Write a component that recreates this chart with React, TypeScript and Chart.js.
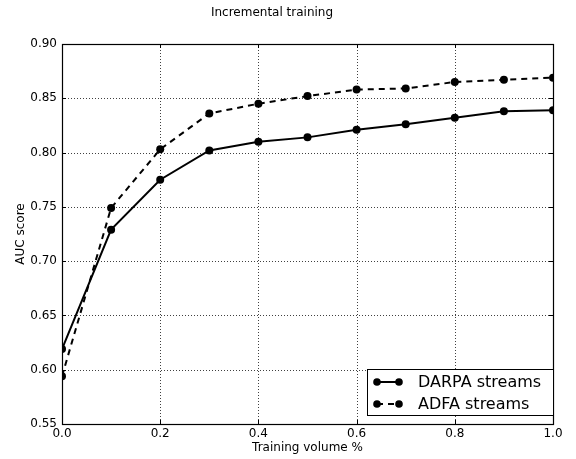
import React, { useEffect, useRef } from "react";
import { Chart, registerables } from "chart.js";

Chart.register(...registerables);

const xValues = [0.0, 0.1, 0.2, 0.3, 0.4, 0.5, 0.6, 0.7, 0.8, 0.9, 1.0];
const darpaValues = [0.619, 0.729, 0.775, 0.802, 0.81, 0.814, 0.821, 0.826, 0.832, 0.838, 0.839];
const adfaValues = [0.594, 0.749, 0.803, 0.836, 0.845, 0.852, 0.858, 0.859, 0.865, 0.867, 0.869];
const seriesNames = ["DARPA streams", "ADFA streams"];
const titleText = "Incremental training";
const xTitle = "Training volume %";
const yTitle = "AUC score";

const FONT = "'DejaVu Sans', sans-serif";

const customPlugin = {
  id: "mplStyle",
  beforeDatasetsDraw(chart: any) {
    const { ctx, chartArea } = chart;
    const xs = chart.scales.x;
    const ys = chart.scales.y;
    ctx.save();
    ctx.strokeStyle = "rgba(0,0,0,0.75)";
    ctx.lineWidth = 1;
    ctx.setLineDash([1, 2]);
    xs.ticks.forEach((t: any) => {
      const px = Math.round(xs.getPixelForValue(t.value)) + 0.5;
      if (px <= chartArea.left + 1 || px >= chartArea.right - 1) return;
      ctx.beginPath();
      ctx.moveTo(px, chartArea.top);
      ctx.lineTo(px, chartArea.bottom);
      ctx.stroke();
    });
    ys.ticks.forEach((t: any) => {
      const py = Math.round(ys.getPixelForValue(t.value)) + 0.5;
      if (py <= chartArea.top + 1 || py >= chartArea.bottom - 1) return;
      ctx.beginPath();
      ctx.moveTo(chartArea.left, py);
      ctx.lineTo(chartArea.right, py);
      ctx.stroke();
    });
    ctx.restore();
  },
  afterDraw(chart: any) {
    const { ctx, chartArea } = chart;
    const xs = chart.scales.x;
    const ys = chart.scales.y;
    const { left, right, top, bottom } = chartArea;
    ctx.save();
    // ticks inward
    ctx.strokeStyle = "#000";
    ctx.lineWidth = 1;
    ctx.setLineDash([]);
    const tl = 4;
    xs.ticks.forEach((t: any) => {
      const px = Math.round(xs.getPixelForValue(t.value)) + 0.5;
      ctx.beginPath();
      ctx.moveTo(px, bottom);
      ctx.lineTo(px, bottom - tl);
      ctx.moveTo(px, top);
      ctx.lineTo(px, top + tl);
      ctx.stroke();
    });
    ys.ticks.forEach((t: any) => {
      const py = Math.round(ys.getPixelForValue(t.value)) + 0.5;
      ctx.beginPath();
      ctx.moveTo(left, py);
      ctx.lineTo(left + tl, py);
      ctx.moveTo(right, py);
      ctx.lineTo(right - tl, py);
      ctx.stroke();
    });
    // border
    ctx.strokeStyle = "#000";
    ctx.lineWidth = 1.2;
    ctx.strokeRect(Math.round(left) + 0.5, Math.round(top) + 0.5, Math.round(right - left), Math.round(bottom - top));

    // title
    ctx.fillStyle = "#000";
    ctx.font = `12px ${FONT}`;
    ctx.textAlign = "center";
    ctx.textBaseline = "middle";
    ctx.fillText(titleText, 272, 13);

    // x title
    ctx.fillText(xTitle, (left + right) / 2, 448);

    // y title
    ctx.save();
    ctx.translate(21, (top + bottom) / 2);
    ctx.rotate(-Math.PI / 2);
    ctx.fillText(yTitle, 0, 0);
    ctx.restore();

    // legend
    const bx0 = 367, by0 = 369, bx1 = Math.round(right), by1 = 415;
    ctx.fillStyle = "#fff";
    ctx.fillRect(bx0, by0, bx1 - bx0, by1 - by0);
    ctx.strokeStyle = "#000";
    ctx.lineWidth = 1;
    ctx.strokeRect(bx0 + 0.5, by0 + 0.5, bx1 - bx0, by1 - by0);
    const rows = [382, 404];
    const dashes = [[], [6, 5]];
    rows.forEach((ry, i) => {
      ctx.strokeStyle = "#000";
      ctx.lineWidth = 2;
      ctx.setLineDash(dashes[i]);
      ctx.beginPath();
      ctx.moveTo(377, ry);
      ctx.lineTo(399, ry);
      ctx.stroke();
      ctx.setLineDash([]);
      ctx.fillStyle = "#000";
      [377, 399].forEach((cx) => {
        ctx.beginPath();
        ctx.arc(cx, ry, 3.8, 0, Math.PI * 2);
        ctx.fill();
      });
      ctx.font = `16px ${FONT}`;
      ctx.textAlign = "left";
      ctx.textBaseline = "middle";
      ctx.fillText(seriesNames[i], 418, ry + 1);
    });
    ctx.restore();
  },
};

export default function App() {
  const canvasRef = useRef<HTMLCanvasElement | null>(null);

  useEffect(() => {
    document.body.style.margin = "0";
    const canvas = canvasRef.current;
    if (!canvas) return;
    const chart = new Chart(canvas, {
      type: "line",
      data: {
        datasets: [
          {
            label: seriesNames[0],
            data: xValues.map((x, i) => ({ x, y: darpaValues[i] })),
            borderColor: "#000",
            backgroundColor: "#000",
            borderWidth: 2,
            pointRadius: 4,
            pointBackgroundColor: "#000",
            pointBorderWidth: 0,
            tension: 0,
            fill: false,
            clip: 0,
          } as any,
          {
            label: seriesNames[1],
            data: xValues.map((x, i) => ({ x, y: adfaValues[i] })),
            borderColor: "#000",
            backgroundColor: "#000",
            borderWidth: 2,
            borderDash: [6, 5],
            pointRadius: 4,
            pointBackgroundColor: "#000",
            pointBorderWidth: 0,
            tension: 0,
            fill: false,
            clip: 0,
          } as any,
        ],
      },
      options: {
        responsive: false,
        animation: false,
        devicePixelRatio: 1,
        layout: { padding: { top: 44, right: 23, left: 0, bottom: 0 } },
        plugins: {
          legend: { display: false },
          title: { display: false },
          tooltip: { enabled: false },
        },
        scales: {
          x: {
            type: "linear",
            min: 0,
            max: 1,
            ticks: {
              stepSize: 0.2,
              color: "#000",
              font: { family: FONT, size: 12 },
              padding: 3,
              maxRotation: 0,
              callback: (v: any) => Number(v).toFixed(1),
            },
            grid: { display: false, drawTicks: false },
            border: { display: false },
            afterFit: (s: any) => {
              s.height = 35;
            },
          },
          y: {
            type: "linear",
            min: 0.55,
            max: 0.9,
            ticks: {
              stepSize: 0.05,
              color: "#000",
              font: { family: FONT, size: 12 },
              padding: 5,
              callback: (v: any) => Number(v).toFixed(2),
            },
            grid: { display: false, drawTicks: false },
            border: { display: false },
            afterFit: (s: any) => {
              s.width = 62;
            },
          },
        },
      } as any,
      plugins: [customPlugin],
    });
    return () => chart.destroy();
  }, []);

  return (
    <div style={{ width: 576, height: 459 }}>
      <canvas ref={canvasRef} width={576} height={459} style={{ width: 576, height: 459, display: "block" }} />
    </div>
  );
}
